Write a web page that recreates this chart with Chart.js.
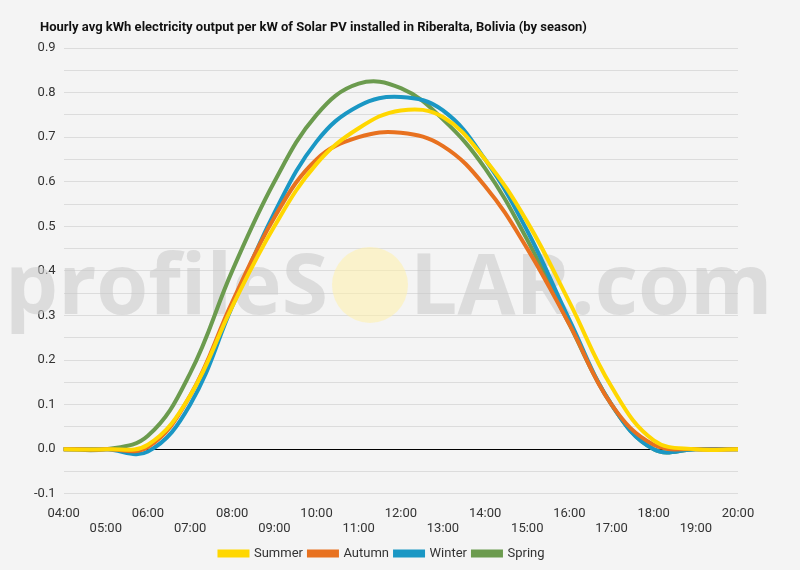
<!DOCTYPE html>
<html>
<head>
<meta charset="utf-8">
<script src="https://cdn.jsdelivr.net/npm/chart.js@4"></script>
<style>
  html, body { margin: 0; background: #f4f4f4; }
  #wrap { width: 800px; height: 570px; position: relative; }
</style>
</head>
<body>
<div id="wrap"><canvas id="c"></canvas></div>
<script>
/* ---- data --------------------------------------------------------------- */
const hours  = ['04:00','05:00','06:00','07:00','08:00','09:00','10:00','11:00',
                '12:00','13:00','14:00','15:00','16:00','17:00','18:00','19:00','20:00'];
const summer = [0, 0, 0.01, 0.12, 0.32, 0.50, 0.64, 0.72, 0.76, 0.745, 0.65, 0.51, 0.33, 0.14, 0.02, 0, 0];
const autumn = [0, 0, 0.005, 0.12, 0.33, 0.52, 0.65, 0.70, 0.71, 0.68, 0.59, 0.45, 0.28, 0.10, 0.01, 0, 0];
const winter = [0, 0, -0.005, 0.10, 0.32, 0.53, 0.69, 0.77, 0.79, 0.76, 0.65, 0.49, 0.29, 0.10, 0.0, 0, 0];
const spring = [0, 0, 0.03, 0.17, 0.40, 0.60, 0.75, 0.82, 0.81, 0.74, 0.63, 0.47, 0.28, 0.10, 0.0, 0, 0];

const title = 'Hourly avg kWh electricity output per kW of Solar PV installed in Riberalta, Bolivia (by season)';

const line = (label, data, color) => ({
  label, data, borderColor: color, backgroundColor: color,
  borderWidth: 4, pointRadius: 0, tension: 0.4, fill: false
});

/* watermark behind the lines + title at a fixed spot */
const watermark = {
  id: 'watermark',
  beforeDatasetsDraw(chart) {
    const { ctx } = chart;
    ctx.save();
    ctx.font = 'bold 84px "Open Sans", sans-serif';
    ctx.fillStyle = 'rgba(200,200,200,0.55)';
    ctx.textBaseline = 'middle';
    ctx.fillText('profileS', 5, 290);
    ctx.fillText('LAR.com', 410, 290);
    ctx.fillStyle = 'rgba(255,240,170,0.55)';
    ctx.beginPath(); ctx.arc(370, 285, 38, 0, Math.PI * 2); ctx.fill();
    ctx.restore();
  },
  afterDraw(chart) {
    const { ctx } = chart;
    ctx.save();
    ctx.font = 'bold 13px Roboto, sans-serif';
    ctx.fillStyle = '#111';
    ctx.textBaseline = 'middle';
    ctx.fillText(title, 40, 28);
    ctx.restore();
  }
};

Chart.defaults.font.family = 'Roboto, sans-serif';
Chart.defaults.color = '#333';

new Chart(document.getElementById('c'), {
  type: 'line',
  data: {
    labels: hours,
    datasets: [
      line('Summer', summer, '#ffd700'),
      line('Autumn', autumn, '#e8711f'),
      line('Winter', winter, '#1a97c4'),
      line('Spring', spring, '#6b9b4e')
    ]
  },
  options: {
    responsive: true, maintainAspectRatio: false, animation: false,
    layout: { padding: { left: 26, right: 62, top: 48, bottom: 0 } },
    plugins: {
      legend: {
        position: 'bottom',
        labels: { boxWidth: 28, boxHeight: 4, padding: 6, font: { size: 13 } }
      }
    },
    scales: {
      x: {
        grid: { display: false },
        border: { display: false },
        ticks: {
          autoSkip: false, maxRotation: 0, font: { size: 13 }, padding: 4,
          callback: (v, i) => i % 2 === 0 ? [hours[i], ''] : ['', hours[i]]
        }
      },
      y: {
        min: -0.1, max: 0.9,
        border: { display: false },
        grid: {
          color: ctx => Math.abs(ctx.tick.value) < 1e-9 ? '#000' : '#dcdcdc',
          drawTicks: false
        },
        ticks: {
          stepSize: 0.05, padding: 8, font: { size: 13 },
          callback: v => Math.abs(Math.round(v * 100) % 10) === 0 ? v.toFixed(1) : ''
        }
      }
    }
  },
  plugins: [watermark]
});
</script>
</body>
</html>
